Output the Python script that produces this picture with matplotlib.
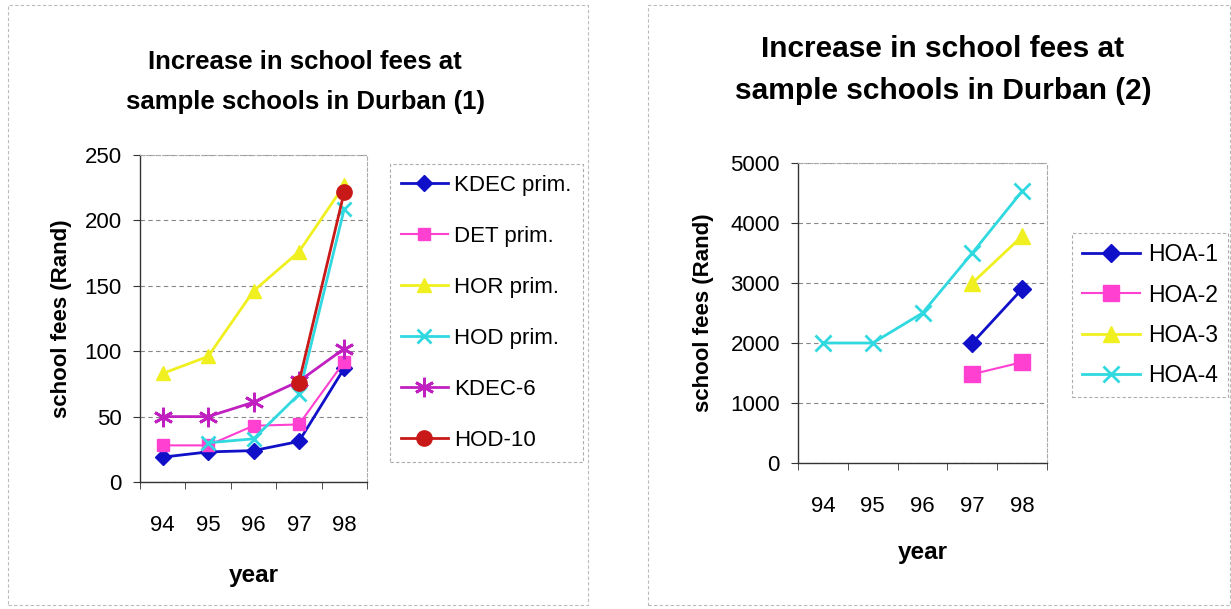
import numpy as np
import matplotlib
matplotlib.use("Agg")
import matplotlib.pyplot as plt
from matplotlib.patches import Rectangle

plt.rcParams['font.family'] = ['Liberation Sans', 'DejaVu Sans']

years = ["94", "95", "96", "97", "98"]

# Chart 1
kdec_prim = [19, 23, 24, 31, 87]
det_prim = [28, 28, 43, 44, 92]
hor_prim = [83, 96, 146, 176, 227]
hod_prim = [np.nan, 30, 33, 67, 209]
kdec_6 = [50, 50, 61, 77, 102]
hod_10 = [np.nan, np.nan, np.nan, 76, 222]

# Chart 2
hoa_1 = [np.nan, np.nan, np.nan, 2000, 2900]
hoa_2 = [np.nan, np.nan, np.nan, 1480, 1680]
hoa_3 = [np.nan, np.nan, np.nan, 3000, 3780]
hoa_4 = [2000, 2000, 2500, 3500, 4530]

W, H = 1231, 609
fig = plt.figure(figsize=(W / 100, H / 100), dpi=100)

def fx(px):
    return px / W

def fy(py):
    return 1 - py / H

# faint frames
fig.add_artist(Rectangle((fx(8), 4 / H), 580 / W, 600 / H, transform=fig.transFigure,
                         fill=False, edgecolor='#bbbbbb', lw=0.8, linestyle=(0, (3, 2))))
fig.add_artist(Rectangle((fx(648), 4 / H), 582 / W, 600 / H, transform=fig.transFigure,
                         fill=False, edgecolor='#bbbbbb', lw=0.8, linestyle=(0, (3, 2))))

x = np.arange(len(years))

def style_axes(ax, ymax, ystep, xpad):
    ax.set_xlim(-0.5, len(years) - 0.5)
    ax.set_ylim(0, ymax)
    ax.set_yticks(np.arange(0, ymax + 1, ystep))
    ax.set_xticks(x)
    ax.set_xticklabels(years)
    ax.set_xticks(np.arange(-0.5, len(years), 1.0), minor=True)
    ax.tick_params(axis='x', which='major', length=0, pad=xpad, labelsize=16)
    ax.tick_params(axis='x', which='minor', length=5, direction='out', color='#333333')
    ax.tick_params(axis='y', length=5, direction='out', labelsize=16, pad=8, color='#333333')
    ax.grid(axis='y', color='#888888', linestyle=(0, (4, 3)), lw=0.8)
    ax.set_axisbelow(True)
    for side in ['top', 'right']:
        ax.spines[side].set_color('#aaaaaa')
        ax.spines[side].set_linestyle((0, (3, 2)))
        ax.spines[side].set_linewidth(0.8)
    for side in ['left', 'bottom']:
        ax.spines[side].set_color('#333333')
        ax.spines[side].set_linewidth(1.0)

def style_legend(leg):
    fr = leg.get_frame()
    fr.set_linewidth(0.8)
    fr.set_linestyle((0, (3, 2)))
    fr.set_edgecolor('#999999')

# ---- Left chart
ax1 = fig.add_axes([fx(140), fy(482), 227 / W, 327 / H])
ax1.plot(x, kdec_prim, color='#1010c8', marker='D', ms=8, lw=2, label='KDEC prim.')
ax1.plot(x, det_prim, color='#ff40d0', marker='s', ms=9, lw=1.5, label='DET prim.')
ax1.plot(x, hor_prim, color='#f0f020', marker='^', ms=10, lw=2, label='HOR prim.')
ax1.plot(x, hod_prim, color='#30d8e0', marker='x', ms=10, mew=2, lw=2, label='HOD prim.')
ax1.plot(x, kdec_6, color='#c020c0', marker=(6, 2, 0), ms=14, mew=2, lw=2, label='KDEC-6')
ax1.plot(x, hod_10, color='#c81818', marker='o', ms=11, lw=2, label='HOD-10')
style_axes(ax1, 250, 50, 24)
ax1.set_ylabel('school fees (Rand)', fontsize=16, fontweight='bold', labelpad=9)
ax1.set_xlabel('year', fontsize=17.5, fontweight='bold', labelpad=20)
leg1 = ax1.legend(loc='upper left', bbox_to_anchor=(fx(390), fy(164)), bbox_transform=fig.transFigure,
                  fontsize=16, frameon=True, fancybox=False,
                  handlelength=2.1, labelspacing=1.35, borderpad=0.5, handletextpad=0.3,
                  borderaxespad=0)
style_legend(leg1)
fig.text(fx(305), fy(82), 'Increase in school fees at\nsample schools in Durban (1)',
         ha='center', va='center', fontsize=18.5, fontweight='bold', linespacing=1.85)

# ---- Right chart
ax2 = fig.add_axes([fx(798), fy(463), 249 / W, 300 / H])
ax2.plot(x, hoa_1, color='#1010c8', marker='D', ms=9, lw=2, label='HOA-1')
ax2.plot(x, hoa_2, color='#ff40d0', marker='s', ms=11, lw=1.5, label='HOA-2')
ax2.plot(x, hoa_3, color='#f0f020', marker='^', ms=11, lw=2, label='HOA-3')
ax2.plot(x, hoa_4, color='#30d8e0', marker='x', ms=12, mew=2, lw=2, label='HOA-4')
style_axes(ax2, 5000, 1000, 24)
ax2.set_ylabel('school fees (Rand)', fontsize=16, fontweight='bold', labelpad=12)
ax2.set_xlabel('year', fontsize=17.5, fontweight='bold', labelpad=17)
leg2 = ax2.legend(loc='upper left', bbox_to_anchor=(fx(1072), fy(233)), bbox_transform=fig.transFigure,
                  fontsize=16.5, frameon=True, fancybox=False,
                  handlelength=2.5, labelspacing=0.75, borderpad=0.45, handletextpad=0.35,
                  borderaxespad=0)
style_legend(leg2)
fig.text(fx(943), fy(70), 'Increase in school fees at\nsample schools in Durban (2)',
         ha='center', va='center', fontsize=21.5, fontweight='bold', linespacing=1.6)

fig.savefig('out.png', dpi=100, facecolor='white')
